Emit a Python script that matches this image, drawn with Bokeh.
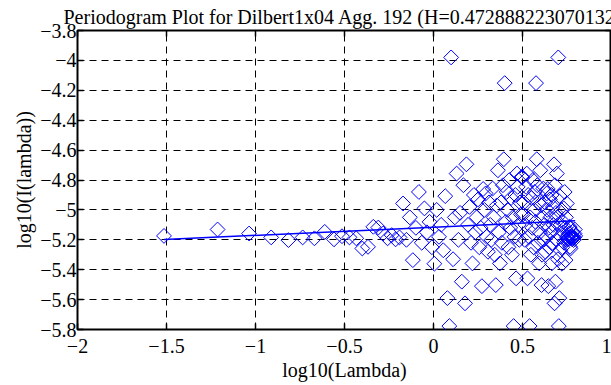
from bokeh.plotting import figure
from bokeh.models import Range1d, FixedTicker, LinearAxis, ColumnDataSource, CustomJSTickFormatter
from bokeh.embed import file_html
from bokeh.resources import INLINE
import math

title_text = "Periodogram Plot for Dilbert1x04 Agg. 192 (H=0.472888223070132)"
x_label = "log10(Lambda)"
y_label = "log10(I(lambda))"

x_ticks = [-2, -1.5, -1, -0.5, 0, 0.5, 1]
x_tick_labels = ["\u22122", "\u22121.5", "\u22121", "\u22120.5", "0", "0.5", "1"]
y_ticks = [-5.8, -5.6, -5.4, -5.2, -5.0, -4.8, -4.6, -4.4, -4.2, -4.0, -3.8]
y_tick_labels = ["\u22125.8", "\u22125.6", "\u22125.4", "\u22125.2", "\u22125", "\u22124.8",
                 "\u22124.6", "\u22124.4", "\u22124.2", "\u22124", "\u22123.8"]

# log10 of frequency (lower half of the spectrum)
log_lambda_low = [
    -1.514, -1.213, -1.036, -0.912, -0.815, -0.735, -0.669, -0.611, -0.559, -0.514,
    -0.472, -0.434, -0.400, -0.368, -0.338, -0.310, -0.283, -0.258, -0.235, -0.213,
    -0.191, -0.171, -0.152, -0.133, -0.116, -0.099, -0.082, -0.066, -0.051, -0.037,
    -0.022, -0.009, 0.005, 0.018, 0.031, 0.043, 0.055, 0.066, 0.078, 0.089,
    0.099, 0.110, 0.120, 0.130, 0.140, 0.149, 0.159, 0.168, 0.177, 0.185,
    0.194, 0.202, 0.211, 0.219, 0.227, 0.235, 0.242, 0.250, 0.257, 0.265,
    0.272, 0.279, 0.286, 0.293, 0.299, 0.306, 0.312, 0.319, 0.325, 0.332,
    0.338, 0.344, 0.350, 0.356, 0.362, 0.367, 0.373, 0.379, 0.384, 0.390,
    0.395, 0.400, 0.406, 0.411, 0.416, 0.421, 0.426, 0.431, 0.436, 0.441,
    0.445, 0.450, 0.455, 0.460, 0.464, 0.469, 0.473, 0.478, 0.482, 0.486,
    0.491, 0.495,
]
# log10 of frequency (upper half of the spectrum)
log_lambda_high = [
    0.499, 0.503, 0.508, 0.512, 0.516, 0.520, 0.524, 0.528,
    0.532, 0.536, 0.540, 0.543, 0.547, 0.551, 0.555, 0.558, 0.562, 0.566,
    0.569, 0.573, 0.576, 0.580, 0.583, 0.587, 0.590, 0.594, 0.597, 0.600,
    0.604, 0.607, 0.610, 0.614, 0.617, 0.620, 0.623, 0.626, 0.629, 0.633,
    0.636, 0.639, 0.642, 0.645, 0.648, 0.651, 0.654, 0.657, 0.660, 0.663,
    0.665, 0.668, 0.671, 0.674, 0.677, 0.680, 0.682, 0.685, 0.688, 0.691,
    0.693, 0.696, 0.699, 0.701, 0.704, 0.707, 0.709, 0.712, 0.714, 0.717,
    0.719, 0.722, 0.724, 0.727, 0.729, 0.732, 0.734, 0.737, 0.739, 0.742,
    0.744, 0.746, 0.749, 0.751, 0.754, 0.756, 0.758, 0.761, 0.763, 0.765,
    0.767, 0.770, 0.772, 0.774, 0.776, 0.779, 0.781, 0.783, 0.785, 0.787,
    0.790, 0.792, 0.794, 0.796,
]
# log10 of periodogram values
log_I_low = [
    -5.174, -5.131, -5.158, -5.184, -5.202, -5.184, -5.190, -5.147, -5.197, -5.176,
    -5.184, -5.190, -5.258, -5.247, -5.113, -5.118, -5.158, -5.190, -5.169, -5.197,
    -5.184, -4.957, -5.200, -5.050, -5.336, -5.120, -4.880, -5.220, -4.990, -5.150,
    -5.080, -5.250, -5.360, -5.000, -5.180, -5.100, -5.270, -4.908, -5.590, -5.777,
    -3.980, -5.330, -5.050, -4.757, -5.200, -5.020, -5.480, -4.835, -5.625, -4.695,
    -5.100, -4.980, -5.220, -5.358, -4.900, -5.150, -5.050, -4.930, -5.250, -5.120,
    -5.510, -4.860, -5.000, -4.890, -5.180, -5.280, -4.950, -5.100, -5.200, -4.857,
    -5.050, -5.300, -5.503, -4.970, -4.735, -5.150, -5.358, -4.950, -5.220, -4.835,
    -4.661, -4.152, -5.080, -4.880, -5.000, -5.250, -4.800, -5.120, -4.920, -5.300,
    -5.050, -5.777, -5.180, -4.900, -5.458, -4.757, -4.846, -5.100, -5.200, -4.950,
    -5.030, -4.780,
]
log_I_high = [
    -4.780, -5.030, -4.950, -5.200, -5.100, -4.846, -4.757, -5.458, -4.900, -5.180,
    -5.777, -5.050, -5.300, -4.920, -5.120, -4.800, -5.250, -5.000, -4.880, -5.080,
    -4.152, -4.661, -4.835, -5.220, -4.950, -5.358, -5.150, -4.735, -4.970, -5.503,
    -5.300, -5.050, -4.857, -5.200, -5.100, -4.950, -5.280, -5.180, -4.890, -5.000,
    -4.860, -5.510, -5.120, -5.250, -4.930, -5.050, -5.150, -4.900, -5.358, -5.220,
    -4.980, -5.100, -4.695, -5.625, -4.835, -5.480, -5.020, -5.200, -4.757, -5.050,
    -5.330, -3.980, -5.777, -5.590, -4.908, -5.270, -5.100, -5.180, -5.000, -5.360,
    -5.250, -5.080, -5.150, -4.990, -5.220, -4.880, -5.120, -5.336, -5.050, -5.200,
    -4.957, -5.184, -5.197, -5.169, -5.190, -5.158, -5.118, -5.113, -5.247, -5.258,
    -5.190, -5.184, -5.176, -5.197, -5.147, -5.190, -5.184, -5.202, -5.184, -5.158,
    -5.131, -5.174,
]
# least-squares fit line end points
fit_x = [-1.514, 0.796]
fit_y = [-5.198, -5.073]

FONT = "Liberation Serif"
BLUE = "#0000ff"

src = ColumnDataSource(dict(x=log_lambda_low + log_lambda_high, y=log_I_low + log_I_high))

p = figure(width=611, height=385, x_range=Range1d(-2, 1), y_range=Range1d(-5.8, -3.8),
           output_backend="svg", toolbar_location=None,
           min_border_left=77, min_border_right=0, min_border_top=30, min_border_bottom=56)
p.background_fill_color = "white"
p.border_fill_color = "white"
p.outline_line_color = "black"
p.outline_line_width = 2

p.title.text = title_text
p.title.text_font = FONT
p.title.text_font_size = "20px"
p.title.text_font_style = "normal"
p.title.text_color = "black"
p.title.align = "left"
p.title.offset = -14
p.title.standoff = 6

xt = FixedTicker(ticks=x_ticks)
yt = FixedTicker(ticks=y_ticks)

LABEL_JS = "const i = tvals.findIndex(t => Math.abs(t - tick) < 1e-9); return i >= 0 ? tlabels[i] : '';"


def style_axis(ax, ticker, labels=None):
    ax.ticker = ticker
    ax.axis_line_color = None
    ax.major_tick_in = 6
    ax.major_tick_out = 0
    ax.minor_tick_in = 0
    ax.minor_tick_out = 0
    ax.major_tick_line_color = "black"
    ax.major_tick_line_width = 1.5
    ax.major_label_text_font = FONT
    ax.major_label_text_color = "black"
    ax.axis_label_text_font = FONT
    ax.axis_label_text_font_size = "20px"
    ax.axis_label_text_font_style = "normal"
    ax.axis_label_text_color = "black"
    if labels is not None:
        ax.major_label_text_font_size = "20px"
        ax.formatter = CustomJSTickFormatter(args=dict(tvals=list(ticker.ticks), tlabels=labels), code=LABEL_JS)
    else:
        ax.major_label_text_font_size = "1px"
        ax.formatter = CustomJSTickFormatter(code="return '';")
        ax.major_label_standoff = -4
        ax.axis_label_standoff = 0


xa = p.xaxis[0]
style_axis(xa, xt, x_tick_labels)
xa.major_label_standoff = 9
xa.axis_label = x_label
xa.axis_label_standoff = 3

ya = p.yaxis[0]
style_axis(ya, yt, y_tick_labels)
ya.major_label_standoff = 1
ya.axis_label = y_label
ya.axis_label_standoff = 2

top = LinearAxis()
style_axis(top, xt)
p.add_layout(top, "above")
right = LinearAxis()
style_axis(right, yt)
p.add_layout(right, "right")

for g, t in ((p.xgrid[0], xt), (p.ygrid[0], yt)):
    g.ticker = t
    g.grid_line_color = "black"
    g.grid_line_alpha = 1.0
    g.grid_line_width = 1
    g.grid_line_dash = "7 5"

p.scatter("x", "y", source=src, marker="square", size=10.5, angle=math.pi / 4,
          fill_color=None, line_color=BLUE, line_width=1)
p.line(fit_x, fit_y, line_color=BLUE, line_width=1.5)

open("out.html", "w").write(file_html(p, INLINE))
